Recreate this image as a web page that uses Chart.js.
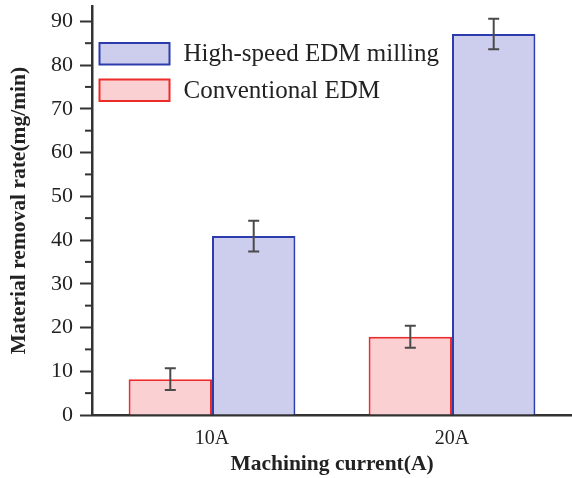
<!DOCTYPE html>
<html>
<head>
<meta charset="utf-8">
<script src="https://cdn.jsdelivr.net/npm/chart.js@4/dist/chart.umd.min.js"></script>
<style>
html,body{margin:0;padding:0;background:#fff;}
#wrap{width:572px;height:478px;position:relative;}
</style>
</head>
<body>
<div id="wrap"><canvas id="c" width="572" height="478"></canvas></div>
<script>
const categories = ['10A', '20A'];
const conventional = [8.2, 17.9];
const conventionalErr = [2.5, 2.5];
const highSpeed = [40.9, 87.1];
const highSpeedErr = [3.5, 3.5];
const yTicks = [0, 10, 20, 30, 40, 50, 60, 70, 80, 90];
const yMinorTicks = [5, 15, 25, 35, 45, 55, 65, 75, 85];

const SERIF = '"Liberation Serif", "Times New Roman", serif';
const AXIS = '#333333';

const errorBars = {
  id: 'errorBars',
  afterDatasetsDraw(chart) {
    const ctx = chart.ctx;
    const y = chart.scales.y;
    chart.data.datasets.forEach((ds, di) => {
      const meta = chart.getDatasetMeta(di);
      meta.data.forEach((bar, i) => {
        const v = ds.data[i], e = ds.errors[i];
        const x = bar.x;
        const yt = y.getPixelForValue(v + e);
        const yb = y.getPixelForValue(v - e);
        ctx.save();
        ctx.strokeStyle = '#4a4a4a';
        ctx.lineWidth = 2;
        ctx.beginPath();
        ctx.moveTo(x, yt); ctx.lineTo(x, yb);
        ctx.moveTo(x - 5.5, yt); ctx.lineTo(x + 5.5, yt);
        ctx.moveTo(x - 5.5, yb); ctx.lineTo(x + 5.5, yb);
        ctx.stroke();
        ctx.restore();
      });
    });
  }
};

const minorTicks = {
  id: 'minorTicks',
  afterDraw(chart) {
    const ctx = chart.ctx;
    const y = chart.scales.y;
    const x0 = chart.chartArea.left;
    ctx.save();
    ctx.strokeStyle = AXIS;
    ctx.lineWidth = 2;
    yMinorTicks.forEach(v => {
      const p = y.getPixelForValue(v);
      ctx.beginPath();
      ctx.moveTo(x0 - 7, p); ctx.lineTo(x0, p);
      ctx.stroke();
    });
    ctx.restore();
  }
};

const customLegend = {
  id: 'customLegend',
  afterDraw(chart) {
    const ctx = chart.ctx;
    const items = [chart.data.datasets[1], chart.data.datasets[0]];
    ctx.save();
    items.forEach((ds, i) => {
      const bx = 99.5, by = 43 + i * 36.5, bw = 70, bh = 21.5;
      ctx.fillStyle = ds.backgroundColor;
      ctx.fillRect(bx, by, bw, bh);
      ctx.strokeStyle = ds.borderColor;
      ctx.lineWidth = 2;
      ctx.strokeRect(bx, by, bw, bh);
      ctx.fillStyle = '#222222';
      ctx.font = '25px ' + SERIF;
      ctx.textBaseline = 'middle';
      ctx.textAlign = 'left';
      ctx.fillText(ds.label, 183.5, by + bh / 2 + 1);
    });
    ctx.restore();
  }
};

new Chart(document.getElementById('c'), {
  type: 'bar',
  data: {
    labels: categories,
    datasets: [
      {
        label: 'Conventional EDM',
        data: conventional,
        errors: conventionalErr,
        backgroundColor: '#fad0d3',
        borderColor: '#ee2b2b',
        borderWidth: 2,
        borderSkipped: 'bottom'
      },
      {
        label: 'High-speed EDM milling',
        data: highSpeed,
        errors: highSpeedErr,
        backgroundColor: '#cdcdee',
        borderColor: '#2d3cad',
        borderWidth: 2,
        borderSkipped: 'bottom'
      }
    ]
  },
  options: {
    responsive: false,
    animation: false,
    devicePixelRatio: 1,
    layout: { padding: { top: 6, right: 0, left: 0, bottom: 0 } },
    datasets: { bar: { barPercentage: 1.0, categoryPercentage: 0.695 } },
    plugins: {
      legend: { display: false },
      tooltip: { enabled: false }
    },
    scales: {
      x: {
        grid: { display: false, drawTicks: false },
        border: { display: true, color: AXIS, width: 2.5 },
        ticks: { color: '#222', font: { family: SERIF, size: 20 }, padding: 12 },
        title: {
          display: true,
          text: 'Machining current(A)',
          color: '#222',
          font: { family: SERIF, size: 21.5, weight: 'bold' },
          padding: { top: 0, bottom: 1 }
        },
        afterFit(scale) { scale.height = 63; scale.paddingLeft = 0; scale.paddingRight = 0; }
      },
      y: {
        min: 0,
        max: 93.5,
        afterBuildTicks(scale) { scale.ticks = yTicks.map(v => ({ value: v })); },
        grid: {
          display: true,
          drawOnChartArea: false,
          drawTicks: true,
          tickLength: 12,
          tickWidth: 2,
          tickColor: AXIS
        },
        border: { display: true, color: AXIS, width: 2.5 },
        ticks: {
          color: '#222',
          font: { family: SERIF, size: 22 },
          padding: 7
        },
        title: {
          display: true,
          text: 'Material removal rate(mg/min)',
          color: '#222',
          font: { family: SERIF, size: 21.5, weight: 'bold' },
          padding: { top: 7, bottom: 0 }
        },
        afterFit(scale) { scale.width = 92; scale.paddingTop = 0; scale.paddingBottom = 0; }
      }
    }
  },
  plugins: [errorBars, minorTicks, customLegend]
});
</script>
</body>
</html>
